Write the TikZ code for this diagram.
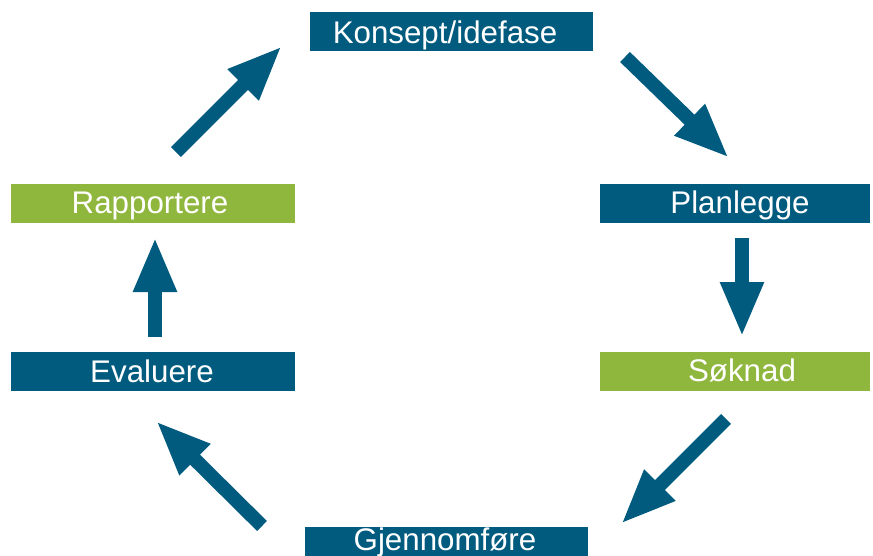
\documentclass[tikz,border=0pt]{standalone}
\usepackage{fontspec}
\setmainfont{Liberation Sans}
\usetikzlibrary{arrows.meta}
\definecolor{cblue}{RGB}{0,91,127}
\definecolor{cgreen}{RGB}{143,182,61}
\tikzset{
  x=1pt, y=-1pt,
  stepbox/.style={draw=none, inner sep=0pt, minimum height=39pt, anchor=north west},
  bluebox/.style={stepbox, fill=cblue},
  greenbox/.style={stepbox, fill=cgreen},
  boxlabel/.style={inner sep=0pt, text=white, font=\fontsize{31.3}{33}\selectfont, anchor=base},
  bigarrow/.style={draw=cblue, line width=14pt, -{Triangle[length=55pt,width=40pt]}}
}
\begin{document}
\begin{tikzpicture}
\useasboundingbox (0,0) rectangle (873,555);
\clip (0,0) rectangle (873,555);
% boxes
\node[bluebox, minimum width=283pt] (konsept) at (310,12) {};
\node[bluebox, minimum width=270pt] (planlegge) at (600,184) {};
\node[greenbox, minimum width=270pt] (soknad) at (600,352) {};
\node[bluebox, minimum width=283pt] (gjennom) at (305,527) {};
\node[bluebox, minimum width=284pt] (evaluere) at (11,352) {};
\node[greenbox, minimum width=284pt] (rapport) at (11,184) {};
% labels
\node[boxlabel] (tkonsept) at (445,43) {Konsept/idefase};
\node[boxlabel] (tplan) at (740,213) {Planlegge};
\node[boxlabel] (tsoknad) at (742,381) {Søknad};
\node[boxlabel] (tgjennom) at (445,550) {Gjennomføre};
\node[boxlabel] (teval) at (152,382) {Evaluere};
\node[boxlabel] (trapp) at (150,213) {Rapportere};
% arrow end points
\coordinate (a1s) at (176,152); \coordinate (a1e) at (282,46);
\coordinate (a2s) at (625,57);  \coordinate (a2e) at (729,158);
\coordinate (a3s) at (742,238); \coordinate (a3e) at (742,337);
\coordinate (a4s) at (726,419); \coordinate (a4e) at (621,524);
\coordinate (a5s) at (262,526); \coordinate (a5e) at (156,421);
\coordinate (a6s) at (155,337); \coordinate (a6e) at (155,237);
\draw[bigarrow] (a1s) -- (a1e);
\draw[bigarrow] (a2s) -- (a2e);
\draw[bigarrow] (a3s) -- (a3e);
\draw[bigarrow] (a4s) -- (a4e);
\draw[bigarrow] (a5s) -- (a5e);
\draw[bigarrow] (a6s) -- (a6e);
\end{tikzpicture}
\end{document}
